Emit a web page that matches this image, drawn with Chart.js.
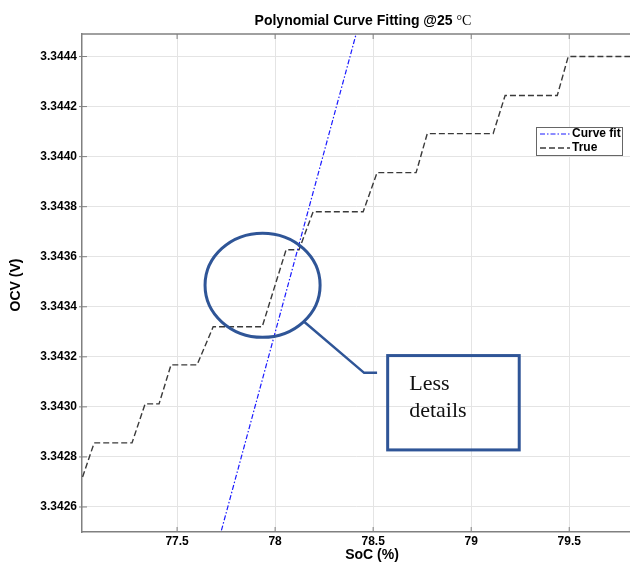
<!DOCTYPE html>
<html>
<head>
<meta charset="utf-8">
<script src="https://cdn.jsdelivr.net/npm/chart.js@4.4.1/dist/chart.umd.min.js"></script>
<style>
html,body{margin:0;padding:0;background:#fff;}
canvas{display:block;}
</style>
</head>
<body>
<canvas id="c" width="630" height="563"></canvas>
<script>
// ---- Data ----
const trueX = [77.018, 77.077, 77.270, 77.337, 77.408, 77.469, 77.602, 77.684, 77.934, 78.056, 78.122, 78.194, 78.449, 78.520, 78.719, 78.776, 79.112, 79.173, 79.439, 79.495, 79.811];
const trueY = [3.34272, 3.342856, 3.342856, 3.343012, 3.343012, 3.343168, 3.343168, 3.34332, 3.34332, 3.343628, 3.343628, 3.34378, 3.34378, 3.343936, 3.343936, 3.344092, 3.344092, 3.344244, 3.344244, 3.3444, 3.3444];
const fitX = [77.6, 77.8, 78.0, 78.2, 78.4, 78.6];
const fitY = [3.342142, 3.34272, 3.343297, 3.343875, 3.344452, 3.34503];
const xTicks = [77.5, 78, 78.5, 79, 79.5];
const yTicks = [3.3426, 3.3428, 3.3430, 3.3432, 3.3434, 3.3436, 3.3438, 3.3440, 3.3442, 3.3444];
const seriesLabels = ['Curve fit', 'True'];
const titleText = 'Polynomial Curve Fitting @25 ';
const titleUnit = '\u00B0C';
const xTitle = 'SoC (%)';
const yTitle = 'OCV (V)';
const calloutLines = ['Less', 'details'];
// callout geometry in data units
const ellipseC = [77.936, 3.343486], ellipseR = [0.2934, 0.000208];
const connector = [[78.148, 3.34334], [78.454, 3.343136], [78.520, 3.343136]];
const boxTL = [78.574, 3.343205], boxBR = [79.245, 3.342828];
const textPos = [[78.684, 3.343068], [78.684, 3.34296]];

const toPts = (xs, ys) => xs.map((x, i) => ({x: x, y: ys[i]}));
const SANS = '"Liberation Sans", Arial, sans-serif';
const ANN = '#2f5597';

const deco = {
  id: 'deco',
  afterDraw(chart) {
    const ctx = chart.ctx, a = chart.chartArea;
    const xs = chart.scales.x, ys = chart.scales.y;
    ctx.save();
    // top border
    ctx.strokeStyle = '#808080'; ctx.lineWidth = 1.5;
    ctx.beginPath(); ctx.moveTo(a.left, a.top); ctx.lineTo(a.right, a.top); ctx.stroke();
    // inner ticks
    ctx.lineWidth = 1; ctx.strokeStyle = '#808080';
    xTicks.forEach(v => {
      const px = xs.getPixelForValue(v);
      ctx.beginPath(); ctx.moveTo(px, a.bottom); ctx.lineTo(px, a.bottom - 5); ctx.stroke();
      ctx.beginPath(); ctx.moveTo(px, a.top); ctx.lineTo(px, a.top + 5); ctx.stroke();
    });
    yTicks.forEach(v => {
      const py = ys.getPixelForValue(v);
      ctx.beginPath(); ctx.moveTo(a.left - 3, py); ctx.lineTo(a.left + 5, py); ctx.stroke();
    });
    // title
    ctx.fillStyle = '#000';
    ctx.font = 'bold 14px ' + SANS;
    const w1 = ctx.measureText(titleText).width;
    ctx.font = '14px "Liberation Serif", serif';
    const w2 = ctx.measureText(titleUnit).width;
    let tx = 363 - (w1 + w2) / 2;
    ctx.textBaseline = 'alphabetic'; ctx.textAlign = 'left';
    ctx.font = 'bold 14px ' + SANS;
    ctx.fillText(titleText, tx, 25);
    ctx.font = '14px "Liberation Serif", serif';
    ctx.fillText(titleUnit, tx + w1, 25);
    // axis titles
    ctx.font = 'bold 14px ' + SANS;
    ctx.textAlign = 'center'; ctx.textBaseline = 'middle';
    ctx.fillText(xTitle, 372, 555);
    ctx.save(); ctx.translate(16, 285); ctx.rotate(-Math.PI / 2);
    ctx.fillText(yTitle, 0, 0); ctx.restore();
    // callout ellipse
    const ex = xs.getPixelForValue(ellipseC[0]), ey = ys.getPixelForValue(ellipseC[1]);
    const rx = Math.abs(xs.getPixelForValue(ellipseC[0] + ellipseR[0]) - ex);
    const ry = Math.abs(ys.getPixelForValue(ellipseC[1] + ellipseR[1]) - ey);
    ctx.strokeStyle = ANN; ctx.lineWidth = 3;
    ctx.beginPath(); ctx.ellipse(ex, ey, rx, ry, 0, 0, Math.PI * 2); ctx.stroke();
    ctx.lineWidth = 2.5;
    ctx.beginPath();
    connector.forEach((p, i) => {
      const px = xs.getPixelForValue(p[0]), py = ys.getPixelForValue(p[1]);
      if (i === 0) ctx.moveTo(px, py); else ctx.lineTo(px, py);
    });
    ctx.stroke();
    // box
    const bx1 = xs.getPixelForValue(boxTL[0]), by1 = ys.getPixelForValue(boxTL[1]);
    const bx2 = xs.getPixelForValue(boxBR[0]), by2 = ys.getPixelForValue(boxBR[1]);
    ctx.lineWidth = 3;
    ctx.strokeRect(bx1, by1, bx2 - bx1, by2 - by1);
    ctx.fillStyle = '#111';
    ctx.font = '22px "Liberation Serif", "Times New Roman", serif';
    ctx.textAlign = 'left'; ctx.textBaseline = 'alphabetic';
    calloutLines.forEach((t, i) => {
      ctx.fillText(t, xs.getPixelForValue(textPos[i][0]), ys.getPixelForValue(textPos[i][1]));
    });
    // legend
    const lx = 536, ly = 127, lw = 86, lh = 28;
    ctx.fillStyle = '#fff'; ctx.fillRect(lx, ly, lw, lh);
    ctx.strokeStyle = '#666'; ctx.lineWidth = 1; ctx.strokeRect(lx + 0.5, ly + 0.5, lw, lh);
    chart.data.datasets.forEach((ds, i) => {
      const yy = ly + 7 + i * 14;
      ctx.strokeStyle = ds.borderColor; ctx.lineWidth = ds.borderWidth;
      ctx.setLineDash(ds.borderDash);
      ctx.beginPath(); ctx.moveTo(lx + 4, yy); ctx.lineTo(lx + 34, yy); ctx.stroke();
      ctx.setLineDash([]);
      ctx.fillStyle = '#000'; ctx.font = 'bold 12px ' + SANS; ctx.textBaseline = 'middle';
      ctx.fillText(ds.label, lx + 36, yy);
    });
    ctx.restore();
  }
};

new Chart(document.getElementById('c'), {
  type: 'scatter',
  data: {
    datasets: [
      { label: seriesLabels[0], data: toPts(fitX, fitY), showLine: true, borderColor: '#1a1aff', borderWidth: 1.2, borderDash: [5, 2, 1.5, 2], pointRadius: 0, tension: 0, fill: false },
      { label: seriesLabels[1], data: toPts(trueX, trueY), showLine: true, borderColor: '#3a3a3a', borderWidth: 1.4, borderDash: [6, 3], pointRadius: 0, tension: 0, fill: false }
    ]
  },
  options: {
    responsive: false,
    animation: false,
    layout: { padding: { top: 34, right: 0, left: 0, bottom: 0 } },
    plugins: { legend: { display: false }, title: { display: false }, tooltip: { enabled: false } },
    scales: {
      x: {
        type: 'linear', min: 77.015, max: 79.81,
        afterBuildTicks: s => { s.ticks = xTicks.map(v => ({value: v})); },
        afterFit: s => { s.height = 31; },
        grid: { color: '#e4e4e4', drawTicks: false, lineWidth: 1 },
        border: { color: '#808080', width: 1.5 },
        ticks: { padding: 2, color: '#000', font: { family: SANS, size: 12, weight: 'bold' }, callback: v => String(v) }
      },
      y: {
        type: 'linear', min: 3.3425, max: 3.34449,
        afterBuildTicks: s => { s.ticks = yTicks.map(v => ({value: v})); },
        afterFit: s => { s.width = 82; },
        grid: { color: '#e4e4e4', drawTicks: false, lineWidth: 1 },
        border: { color: '#808080', width: 1.5 },
        ticks: { padding: 5, color: '#000', font: { family: SANS, size: 12, weight: 'bold' }, callback: v => v.toFixed(4) }
      }
    }
  },
  plugins: [deco]
});
</script>
</body>
</html>
